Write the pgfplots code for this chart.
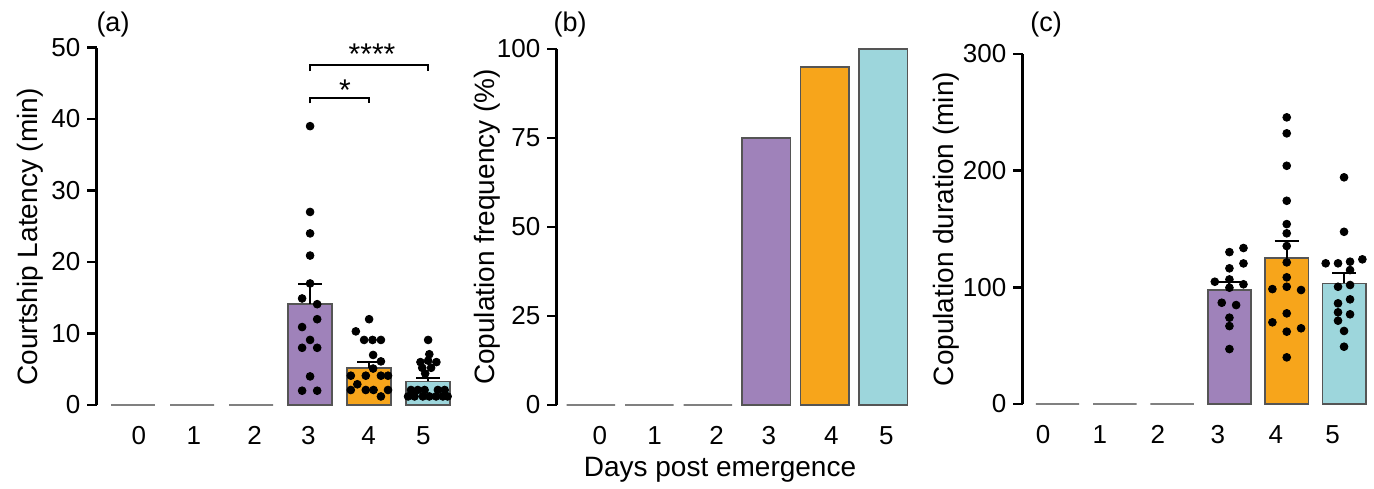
\documentclass[border=0pt]{standalone}
\usepackage{fontspec}
\setmainfont{Liberation Sans}
\usepackage{pgfplots}
\pgfplotsset{compat=1.18}

\definecolor{cpurple}{RGB}{159,130,186}
\definecolor{corange}{RGB}{247,165,27}
\definecolor{ccyan}{RGB}{157,214,220}
\definecolor{cedge}{RGB}{85,85,85}
\definecolor{czero}{RGB}{128,128,128}

\pgfplotsset{
  panel/.style={
    scale only axis,
    anchor=south west,
    axis y line*=left,
    axis x line*=bottom,
    axis line style={-},
    x axis line style={draw=none},
    y axis line style={line width=1.3pt},
    ytick style={line width=1.3pt, black},
    xtick style={draw=none},
    major tick length=4.7pt,
    tick align=outside,
    xticklabels={0,1,2,3,4,5},
    xticklabel style={yshift=-2.5pt},
    ymin=0,
    clip=false,
    tick label style={font=\fontsize{13}{15}\selectfont},
    ylabel style={font=\fontsize{14}{16}\selectfont, anchor=center},
    /pgf/number format/assume math mode=true,
  },
  zerobar/.style={ybar, bar shift=0pt, draw=czero, line width=1.3pt, fill=none},
  colbar/.style={ybar, bar shift=0pt, draw=cedge, line width=0.8pt, fill=#1,
    error bars/y dir=plus, error bars/y explicit,
    error bars/error bar style={black, line width=1pt},
    error bars/error mark options={rotate=90, black, mark size=6pt, line width=1pt}},
  dots/.style={only marks, mark=*, mark size=1.95pt, black},
}

\begin{document}
\begin{tikzpicture}
\path[use as bounding box] (0,0) rectangle (687pt,244pt);

% (a) courtship latency
\begin{axis}[panel, at={(48.35pt,41.5pt)}, width=179pt, height=178.75pt,
  xmin=-0.615, xmax=5.45, ymax=50, ytick={0,10,20,30,40,50},
  xtick={0.1,1.03,2.06,2.97,3.99,4.92},
  ylabel={Courtship Latency (min)},
  ylabel style={at={(axis description cs:-0.186,0.47)}}]
\addplot[zerobar, bar width=0.745] coordinates {(0,0) (1,0) (2,0)};
\addplot[colbar=cpurple, bar width=0.745] coordinates {(3,14.1) +- (0,2.8)};
\addplot[colbar=corange, bar width=0.745] coordinates {(4,5.2) +- (0,0.8)};
\addplot[colbar=ccyan, bar width=0.745] coordinates {(5,3.3) +- (0,0.5)};
\addplot[dots] coordinates {
  (3,39) (3,27) (3,24) (3,20.9) (3,17) (2.865,14.9) (3.12,14.1) (3.12,12)
  (2.865,10.9) (3,9.1) (2.865,8) (3.12,8) (3,4) (2.865,2) (3.12,2)};
\addplot[dots] coordinates {
  (4.0,12.0) (3.775,10.3) (3.915,9.1) (4.058,9.1) (4.2,9.1) (4.068,7.0)
  (4.2,6.1) (4.068,5.1) (3.69,4.1) (3.944,4.1) (4.2,4.1) (4.32,4.1)
  (3.8,2.9) (3.69,2.1) (3.944,2.1) (4.075,2.1) (4.32,2.1) (4.2,1.2)};
\addplot[dots] coordinates {
  (5,9.1) (5.02,7.1) (4.87,6.0) (5.0,6.2) (5.14,6.0) (4.9,5.2) (5.05,5.2)
  (4.95,4.4) (4.71,2.1) (4.825,2.1) (4.94,2.1) (5.165,2.1) (5.28,2.1)
  (4.66,1.2) (4.77,1.2) (4.91,1.2) (5.02,1.2) (5.135,1.2) (5.25,1.2) (5.33,1.2)};
\draw[line width=1pt] (axis cs:3,42.2) |- (axis cs:4,42.9) -- (axis cs:4,42.2);
\draw[line width=1pt] (axis cs:3,46.7) |- (axis cs:5,47.6) -- (axis cs:5,46.7);
\node[font=\fontsize{15}{17}\selectfont, inner sep=0pt] at (axis cs:3.59,44.1) {*};
\node[font=\fontsize{15}{17}\selectfont, inner sep=0pt] at (axis cs:4.05,49.1) {****};
\end{axis}

% (b) copulation frequency
\begin{axis}[panel, at={(278.35pt,41.5pt)}, width=176.5pt, height=178pt,
  xmin=-0.586, xmax=5.45, ymax=100, ytick={0,25,50,75,100},
  xtick={0.15,1.09,2.15,3.04,4.11,5.05},
  ylabel={Copulation frequency (\%)},
  ylabel style={at={(axis description cs:-0.197,0.5)}}]
\addplot[zerobar, bar width=0.83] coordinates {(0,0) (1,0) (2,0)};
\addplot[ybar, bar shift=0pt, bar width=0.83, draw=cedge, line width=0.8pt, fill=cpurple] coordinates {(3,75)};
\addplot[ybar, bar shift=0pt, bar width=0.83, draw=cedge, line width=0.8pt, fill=corange] coordinates {(4,95)};
\addplot[ybar, bar shift=0pt, bar width=0.83, draw=cedge, line width=0.8pt, fill=ccyan] coordinates {(5,100)};
\end{axis}

% (c) copulation duration
\begin{axis}[panel, at={(511.35pt,42pt)}, width=172.7pt, height=175pt,
  xmin=-0.607, xmax=5.42, ymax=300, ytick={0,100,200,300},
  xtick={-0.25,0.74,1.75,2.8,3.81,4.8},
  ylabel={Copulation duration (min)},
  ylabel style={at={(axis description cs:-0.222,0.5)}}]
\addplot[zerobar, bar width=0.757] coordinates {(0,0) (1,0) (2,0)};
\addplot[colbar=cpurple, bar width=0.757] coordinates {(3,97.7) +- (0,6.8)};
\addplot[colbar=corange, bar width=0.757] coordinates {(4,124.9) +- (0,14.8)};
\addplot[colbar=ccyan, bar width=0.757] coordinates {(5,103.4) +- (0,8.8)};
\addplot[dots] coordinates {
  (3,130.2) (3.245,133.7) (3.245,120.5) (3,116.3) (2.745,104.8) (3,106.8)
  (3.245,102.6) (3,99.7) (2.866,86.8) (3.117,84.8) (3,74) (3,66.8) (3,47.1)};
\addplot[dots] coordinates {
  (4,245.7) (4,232) (4,204.2) (4,174.2) (4,154.2) (4,146.3) (4,135.4)
  (4,121.4) (4,108.6) (4,100.5) (3.75,98.5) (4.25,97.7) (4,77.7)
  (3.75,70) (4.25,64.9) (4,62) (4,40)};
\addplot[dots] coordinates {
  (5,194.3) (5,147.6) (4.68,120.6) (4.895,120.6) (5.105,122) (5.32,124)
  (5.105,114.8) (4.895,100.5) (5.105,102) (5.105,89.7) (4.895,86.3)
  (4.895,78.6) (5.105,76.9) (4.895,71.4) (5,62.6) (5,49.1)};
\end{axis}

\node[font=\fontsize{13.5}{16}\selectfont] at (56.5pt,231.5pt) {(a)};
\node[font=\fontsize{13.5}{16}\selectfont] at (285pt,231.5pt) {(b)};
\node[font=\fontsize{13.5}{16}\selectfont] at (523pt,231.5pt) {(c)};
\node[font=\fontsize{14}{16}\selectfont] at (360pt,9pt) {Days post emergence};
\end{tikzpicture}
\end{document}
